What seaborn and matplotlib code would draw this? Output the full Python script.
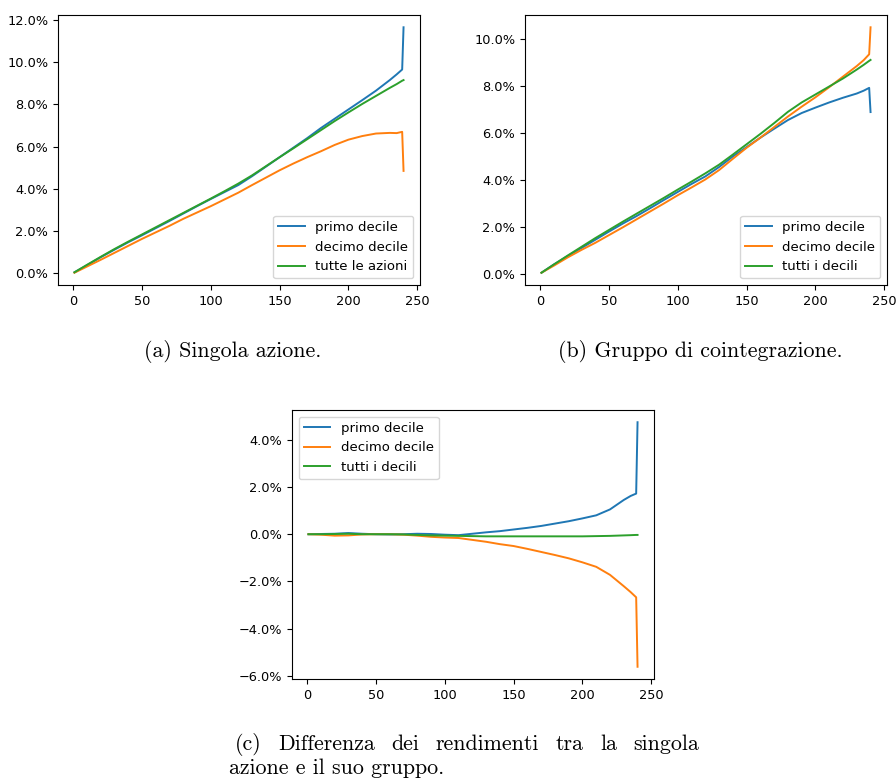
import numpy as np
import pandas as pd
import matplotlib
matplotlib.use("Agg")
import matplotlib.pyplot as plt
import matplotlib.ticker as mticker
import seaborn as sns

# giorni campionati (l'ultimo giorno contiene il salto finale)
days = [1, 10, 20, 30, 40, 50, 60, 70, 80, 90, 100, 110, 120, 130, 140, 150,
        160, 170, 180, 190, 200, 210, 220, 230, 235, 239, 240]

# (a) singola azione, rendimento cumulato in %
a_primo = [0.05, 0.38, 0.76, 1.12, 1.47, 1.80, 2.14, 2.48, 2.83, 3.18, 3.52, 3.85, 4.18, 4.60,
           5.05, 5.50, 5.95, 6.40, 6.88, 7.32, 7.76, 8.20, 8.65, 9.15, 9.42, 9.65, 11.65]
a_decimo = [0.03, 0.32, 0.64, 0.97, 1.30, 1.63, 1.94, 2.25, 2.58, 2.88, 3.18, 3.50, 3.82, 4.18,
            4.53, 4.88, 5.20, 5.50, 5.78, 6.08, 6.33, 6.50, 6.62, 6.65, 6.64, 6.70, 4.85]
a_tutte = [0.05, 0.40, 0.78, 1.15, 1.50, 1.84, 2.18, 2.52, 2.86, 3.20, 3.54, 3.89, 4.25, 4.64,
           5.07, 5.50, 5.92, 6.35, 6.78, 7.21, 7.62, 8.02, 8.40, 8.78, 8.96, 9.12, 9.15]

# (b) gruppo di cointegrazione
b_primo = [0.05, 0.40, 0.76, 1.10, 1.45, 1.80, 2.14, 2.46, 2.80, 3.15, 3.49, 3.83, 4.15, 4.55,
           5.00, 5.40, 5.80, 6.18, 6.55, 6.85, 7.08, 7.30, 7.50, 7.68, 7.80, 7.92, 6.89]
b_decimo = [0.05, 0.35, 0.70, 1.02, 1.32, 1.65, 1.98, 2.32, 2.66, 3.00, 3.35, 3.68, 4.02, 4.42,
            4.90, 5.37, 5.80, 6.25, 6.70, 7.12, 7.52, 7.95, 8.40, 8.85, 9.10, 9.35, 10.50]
b_tutti = [0.05, 0.40, 0.78, 1.15, 1.52, 1.87, 2.22, 2.56, 2.90, 3.24, 3.59, 3.93, 4.28, 4.65,
           5.08, 5.52, 5.96, 6.42, 6.90, 7.30, 7.64, 7.98, 8.32, 8.70, 8.90, 9.07, 9.11]

# (c) differenza tra singola azione e gruppo
c_primo = [0.00, 0.01, 0.02, 0.05, 0.02, 0.00, -0.01, 0.00, 0.02, 0.01, -0.02, -0.04, 0.02, 0.08,
           0.13, 0.20, 0.27, 0.35, 0.45, 0.55, 0.67, 0.80, 1.05, 1.45, 1.62, 1.72, 4.74]
c_decimo = [0.00, -0.02, -0.06, -0.05, -0.01, 0.00, 0.00, -0.02, -0.06, -0.11, -0.14, -0.16, -0.24,
            -0.32, -0.42, -0.50, -0.62, -0.75, -0.88, -1.02, -1.19, -1.38, -1.72, -2.20, -2.45,
            -2.67, -5.61]
c_tutti = [0.00, 0.00, 0.01, 0.02, 0.00, 0.00, 0.00, -0.01, -0.03, -0.05, -0.06, -0.07, -0.08,
           -0.09, -0.09, -0.09, -0.09, -0.09, -0.09, -0.09, -0.09, -0.08, -0.07, -0.05, -0.04,
           -0.03, -0.03]

labels_a = ['primo decile', 'decimo decile', 'tutte le azioni']
labels_bc = ['primo decile', 'decimo decile', 'tutti i decili']


def to_long(series, names):
    frames = [pd.DataFrame({'giorno': days, 'rendimento': vals, 'serie': name})
              for name, vals in zip(names, series)]
    return pd.concat(frames, ignore_index=True)


W, H = 896, 780
fig = plt.figure(figsize=(W / 100, H / 100), dpi=100)
palette = sns.color_palette('tab10', 3)


def panel(rect_px, series, names, loc):
    x0, y0, x1, y1 = rect_px
    ax = fig.add_axes([x0 / W, 1 - y1 / H, (x1 - x0) / W, (y1 - y0) / H])
    data = to_long(series, names)
    sns.lineplot(data=data, x='giorno', y='rendimento', hue='serie', hue_order=names,
                 palette=palette, linewidth=1.4, ax=ax)
    ax.set_xlabel(None)
    ax.set_ylabel(None)
    ax.xaxis.set_major_locator(mticker.MultipleLocator(50))
    ax.yaxis.set_major_locator(mticker.MultipleLocator(2))
    ax.yaxis.set_major_formatter(mticker.PercentFormatter(xmax=100, decimals=1))
    ax.tick_params(labelsize=9.3)
    sns.move_legend(ax, loc, title=None, fontsize=9.5)
    return ax


panel((58, 15, 420, 285), [a_primo, a_decimo, a_tutte], labels_a, 'lower right')
panel((525, 15, 887, 285), [b_primo, b_decimo, b_tutti], labels_bc, 'lower right')
panel((292, 410, 654, 679), [c_primo, c_decimo, c_tutti], labels_bc, 'upper left')

cap = dict(family='cmr10', fontsize=15.8, color='black')
fig.text(233 / W, 1 - 357 / H, '(a) Singola azione.', ha='center', va='baseline', **cap)
fig.text(700 / W, 1 - 357 / H, '(b) Gruppo di cointegrazione.', ha='center', va='baseline', **cap)

# didascalia (c) giustificata sulla prima riga
words = ['(c)', 'Differenza', 'dei', 'rendimenti', 'tra', 'la', 'singola']
left_px, right_px = 235, 699
texts = [fig.text(left_px / W, 1 - 750 / H, w, ha='left', va='baseline', **cap) for w in words]
fig.canvas.draw()
renderer = fig.canvas.get_renderer()
widths = [t.get_window_extent(renderer).width for t in texts]
gap = ((right_px - left_px) - sum(widths)) / (len(words) - 1)
pos = left_px
for t, w in zip(texts, widths):
    t.set_x(pos / W)
    pos += w + gap
fig.text(229 / W, 1 - 774 / H, 'azione e il suo gruppo.', ha='left', va='baseline', **cap)

fig.savefig('out.png', dpi=100)
